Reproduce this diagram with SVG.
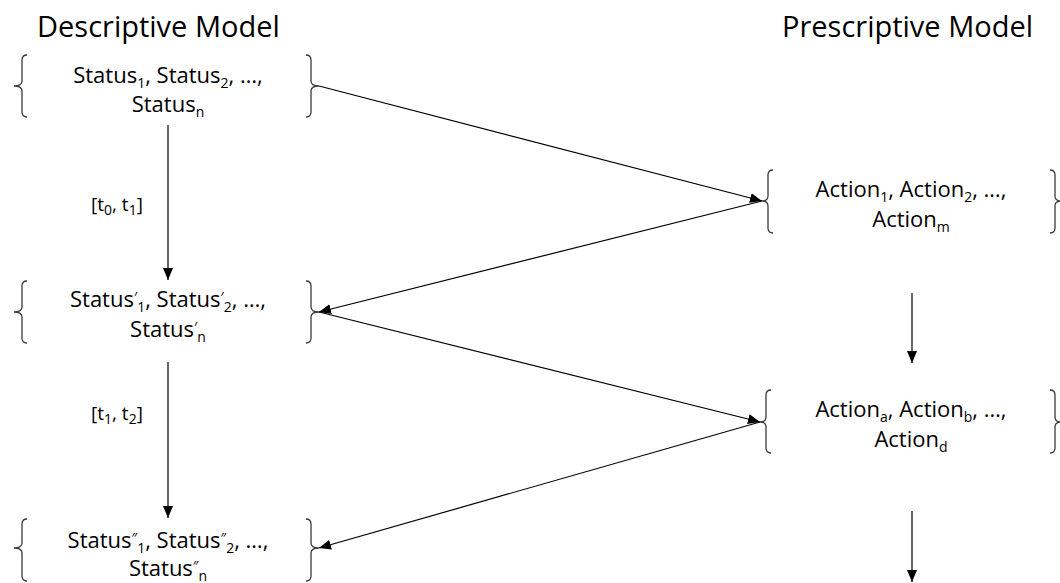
<svg xmlns="http://www.w3.org/2000/svg" width="1060" height="583" viewBox="0 0 1060 583">
<style>
.title{font-family:"Open Sans","Liberation Sans",sans-serif;font-size:29px;fill:#000}
.body{font-family:"Open Sans","Liberation Sans",sans-serif;font-size:22px;fill:#000;text-anchor:middle}
.lbl{font-family:"Open Sans","Liberation Sans",sans-serif;font-size:19px;fill:#000}
.brace{fill:none;stroke:#3a3a3a;stroke-width:1.3}
.conn{fill:none;stroke:#000;stroke-width:1.2}
.s{font-size:14px}
</style>
<defs>
<marker id="arr" markerUnits="userSpaceOnUse" markerWidth="13" markerHeight="11" refX="12" refY="5.5" orient="auto">
<path d="M0,0.5 L12,5.5 L0,10.5 z" fill="#000"/>
</marker>
</defs>
<rect width="1060" height="583" fill="#fff"/>
<text class="title" x="37" y="37">Descriptive Model</text>
<text class="title" x="782" y="37">Prescriptive Model</text>

<g id="status0">
<path class="brace" d="M27,55 Q22,55 22,60 L22,81 Q22,86 14,86 Q22,86 22,91 L22,112 Q22,117 27,117"/>
<path class="brace" d="M306,55 Q311,55 311,60 L311,81 Q311,86 319,86 Q311,86 311,91 L311,112 Q311,117 306,117"/>
<text class="body" x="168" y="83">Status<tspan class="s" dy="5">1</tspan><tspan dy="-5">, Status</tspan><tspan class="s" dy="5">2</tspan><tspan dy="-5">, …,</tspan></text>
<text class="body" x="168" y="112">Status<tspan class="s" dy="5">n</tspan></text>
</g>

<g id="status1">
<path class="brace" d="M27,281 Q22,281 22,286 L22,307 Q22,312 14,312 Q22,312 22,317 L22,338 Q22,343 27,343"/>
<path class="brace" d="M306,281 Q311,281 311,286 L311,307 Q311,312 319,312 Q311,312 311,317 L311,338 Q311,343 306,343"/>
<text class="body" x="168" y="307">Status<tspan class="s" dy="-5">′</tspan><tspan class="s" dy="10">1</tspan><tspan dy="-5">, Status</tspan><tspan class="s" dy="-5">′</tspan><tspan class="s" dy="10">2</tspan><tspan dy="-5">, …,</tspan></text>
<text class="body" x="168" y="337">Status<tspan class="s" dy="-5">′</tspan><tspan class="s" dy="10">n</tspan></text>
</g>

<g id="status2">
<path class="brace" d="M27,519 Q22,519 22,524 L22,543 Q22,548 14,548 Q22,548 22,553 L22,576 Q22,581 27,581"/>
<path class="brace" d="M306,519 Q311,519 311,524 L311,543 Q311,548 319,548 Q311,548 311,553 L311,576 Q311,581 306,581"/>
<text class="body" x="168" y="548">Status<tspan class="s" dy="-5">″</tspan><tspan class="s" dy="10">1</tspan><tspan dy="-5">, Status</tspan><tspan class="s" dy="-5">″</tspan><tspan class="s" dy="10">2</tspan><tspan dy="-5">, …,</tspan></text>
<text class="body" x="168" y="576">Status<tspan class="s" dy="-5">″</tspan><tspan class="s" dy="10">n</tspan></text>
</g>

<g id="action0">
<path class="brace" d="M773,170 Q768,170 768,175 L768,196 Q768,201 762,201 Q768,201 768,206 L768,228 Q768,233 773,233"/>
<path class="brace" d="M1050,170 Q1055,170 1055,175 L1055,196 Q1055,201 1061,201 Q1055,201 1055,206 L1055,228 Q1055,233 1050,233"/>
<text class="body" x="911" y="197">Action<tspan class="s" dy="5">1</tspan><tspan dy="-5">, Action</tspan><tspan class="s" dy="5">2</tspan><tspan dy="-5">, …,</tspan></text>
<text class="body" x="911" y="227">Action<tspan class="s" dy="5">m</tspan></text>
</g>

<g id="action1">
<path class="brace" d="M771,390 Q766,390 766,395 L766,417 Q766,422 760,422 Q766,422 766,427 L766,448 Q766,453 771,453"/>
<path class="brace" d="M1050,390 Q1055,390 1055,395 L1055,417 Q1055,422 1061,422 Q1055,422 1055,427 L1055,448 Q1055,453 1050,453"/>
<text class="body" x="911" y="417">Action<tspan class="s" dy="5">a</tspan><tspan dy="-5">, Action</tspan><tspan class="s" dy="5">b</tspan><tspan dy="-5">, …,</tspan></text>
<text class="body" x="911" y="447">Action<tspan class="s" dy="5">d</tspan></text>
</g>

<g id="connectors">
<line class="conn" x1="319" y1="86" x2="762" y2="201" marker-end="url(#arr)"/>
<line class="conn" x1="762" y1="201" x2="319" y2="312" marker-end="url(#arr)"/>
<line class="conn" x1="319" y1="312" x2="760" y2="422" marker-end="url(#arr)"/>
<line class="conn" x1="760" y1="422" x2="319" y2="548" marker-end="url(#arr)"/>
<line class="conn" x1="168" y1="125" x2="168" y2="280" marker-end="url(#arr)"/>
<line class="conn" x1="168" y1="362" x2="168" y2="518" marker-end="url(#arr)"/>
<line class="conn" x1="912" y1="293" x2="912" y2="363" marker-end="url(#arr)"/>
<line class="conn" x1="912" y1="511" x2="912" y2="582" marker-end="url(#arr)"/>
<text class="lbl" x="91" y="211">[t<tspan class="s" dy="4">0</tspan><tspan dy="-4">, t</tspan><tspan class="s" dy="4">1</tspan><tspan dy="-4">]</tspan></text>
<text class="lbl" x="91" y="420">[t<tspan class="s" dy="4">1</tspan><tspan dy="-4">, t</tspan><tspan class="s" dy="4">2</tspan><tspan dy="-4">]</tspan></text>
</g>
</svg>
